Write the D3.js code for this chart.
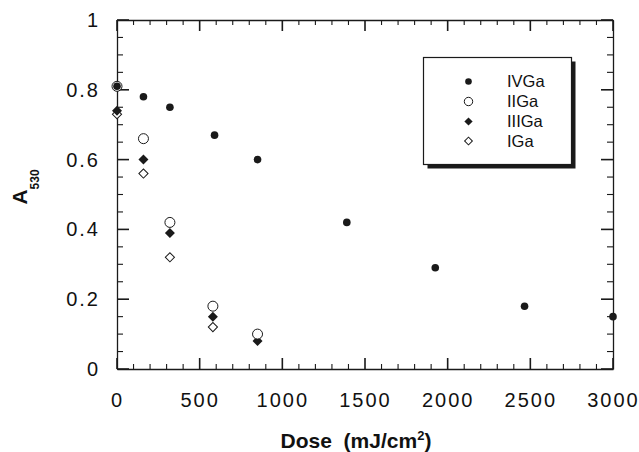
<!DOCTYPE html>
<html>
<head>
<meta charset="utf-8">
<script src="https://cdn.jsdelivr.net/npm/d3@7"></script>
<style>
  html, body { margin: 0; padding: 0; background: #fff; }
  svg { display: block; }
  text { font-family: "Liberation Sans", Arial, Helvetica, sans-serif; fill: #111; }
</style>
</head>
<body>
<svg id="chart" width="639" height="452"></svg>
<script>
// Absorbance at 530 nm versus irradiation dose for four gallium complexes
const seriesNames = ["IVGa", "IIGa", "IIIGa", "IGa"];
const doseIVGa  = [0, 160, 320, 590, 850, 1390, 1925, 2465, 3000];
const valueIVGa = [0.81, 0.78, 0.75, 0.67, 0.60, 0.42, 0.29, 0.18, 0.15];
const doseIIGa  = [0, 160, 320, 580, 850];
const valueIIGa = [0.81, 0.66, 0.42, 0.18, 0.10];
const doseIIIGa  = [0, 160, 320, 580, 850];
const valueIIIGa = [0.74, 0.60, 0.39, 0.15, 0.08];
const doseIGa  = [0, 160, 320, 580];
const valueIGa = [0.73, 0.56, 0.32, 0.12];

const xMajorTicks = [0, 500, 1000, 1500, 2000, 2500, 3000];
const xTickLabels = ["0", "500", "1000", "1500", "2000", "2500", "3000"];
const yMajorTicks = [0, 0.2, 0.4, 0.6, 0.8, 1];
const yTickLabels = ["0", "0.2", "0.4", "0.6", "0.8", "1"];

const svg = d3.select("#chart");
const plotLeft = 117, plotRight = 613, plotTop = 20, plotBottom = 369;

const x = d3.scaleLinear().domain([0, 3000]).range([plotLeft, plotRight]);
const y = d3.scaleLinear().domain([0, 1]).range([plotBottom, plotTop]);

const xMinor = d3.range(0, 3001, 100).filter(v => v % 500 !== 0);
const yMinor = d3.range(0, 21).map(i => i * 0.05).filter(v => Math.abs(v * 5 - Math.round(v * 5)) > 1e-6);

const ink = "#1a1a1a";

// axes: frame lines and tick labels
const gx = svg.append("g").attr("transform", `translate(0,${plotBottom})`)
  .call(d3.axisBottom(x).tickValues(xMajorTicks).tickSize(0).tickPadding(24)
    .tickFormat((d, i) => xTickLabels[i]));
const gt = svg.append("g").attr("transform", `translate(0,${plotTop})`)
  .call(d3.axisTop(x).tickValues([]).tickSize(0));
const gy = svg.append("g").attr("transform", `translate(${plotLeft},0)`)
  .call(d3.axisLeft(y).tickValues(yMajorTicks).tickSize(0).tickPadding(17)
    .tickFormat((d, i) => yTickLabels[i]));
const gr = svg.append("g").attr("transform", `translate(${plotRight},0)`)
  .call(d3.axisRight(y).tickValues([]).tickSize(0));

[gx, gt, gy, gr].forEach(g => {
  g.selectAll("path.domain").attr("stroke", ink).attr("stroke-width", 1.3);
  g.selectAll("text").attr("font-size", 20).attr("letter-spacing", 2).attr("fill", ink)
    .attr("font-family", '"Liberation Sans", Arial, sans-serif');
});

// inward tick marks on all four sides, drawn as thin filled bars
const tickLayer = svg.append("g").attr("fill", ink);
function xTicks(vals, len, w) {
  tickLayer.selectAll(null).data(vals).enter().append("rect")
    .attr("x", d => x(d) - w / 2).attr("width", w).attr("y", plotBottom - len).attr("height", len);
  tickLayer.selectAll(null).data(vals).enter().append("rect")
    .attr("x", d => x(d) - w / 2).attr("width", w).attr("y", plotTop).attr("height", len);
}
function yTicks(vals, len, w) {
  tickLayer.selectAll(null).data(vals).enter().append("rect")
    .attr("y", d => y(d) - w / 2).attr("height", w).attr("x", plotLeft).attr("width", len);
  tickLayer.selectAll(null).data(vals).enter().append("rect")
    .attr("y", d => y(d) - w / 2).attr("height", w).attr("x", plotRight - len).attr("width", len);
}
xTicks(xMajorTicks, 11, 1.6);
xTicks(xMinor, 5, 1.1);
yTicks(yMajorTicks, 12, 1.6);
yTicks(yMinor, 6, 1.1);

// marker drawing helpers (small = legend size)
const marker = {
  IVGa:  (g, small) => g.append("circle").attr("r", small ? 3.3 : 3.8).attr("fill", ink),
  IIGa:  (g, small) => g.append("circle").attr("r", small ? 4.2 : 5).attr("fill", "#fff").attr("stroke", ink).attr("stroke-width", 1),
  IIIGa: (g, small) => g.append("path").attr("d", d3.symbol().type(d3.symbolSquare).size(small ? 34 : 50)()).attr("transform", "rotate(45)").attr("fill", ink),
  IGa:   (g, small) => g.append("path").attr("d", d3.symbol().type(d3.symbolSquare).size(small ? 30 : 42)()).attr("transform", "rotate(45)").attr("fill", "#fff").attr("stroke", ink).attr("stroke-width", 1)
};

const series = [
  { name: "IGa", dose: doseIGa, value: valueIGa },
  { name: "IIIGa", dose: doseIIIGa, value: valueIIIGa },
  { name: "IIGa", dose: doseIIGa, value: valueIIGa },
  { name: "IVGa", dose: doseIVGa, value: valueIVGa }
];

const plot = svg.append("g");
series.forEach(s => {
  s.dose.forEach((d, i) => {
    const g = plot.append("g").attr("transform", `translate(${x(d)},${y(s.value[i])})`);
    marker[s.name](g, false);
  });
});

// legend with drop shadow
const lg = svg.append("g");
const lx = 423.5, ly = 57.5, lw = 148, lh = 107;
lg.append("rect").attr("x", lx + 4).attr("y", ly + 4).attr("width", lw).attr("height", lh).attr("fill", ink);
lg.append("rect").attr("x", lx).attr("y", ly).attr("width", lw).attr("height", lh)
  .attr("fill", "#fff").attr("stroke", ink).attr("stroke-width", 1.2);
const rowY = [81.5, 101.5, 121.5, 141];
seriesNames.forEach((n, i) => {
  const g = lg.append("g").attr("transform", `translate(468.5,${rowY[i]})`);
  marker[n](g, true);
  lg.append("text").attr("x", 507).attr("y", rowY[i] + 5.5).attr("font-size", 16.5).text(n);
});

// axis titles
const xt = svg.append("text").attr("x", 356).attr("y", 448).attr("text-anchor", "middle")
  .attr("font-size", 21).attr("font-weight", "bold");
xt.append("tspan").text("Dose\u00a0\u00a0(mJ/cm");
xt.append("tspan").attr("font-size", 13).attr("dy", -8).text("2");
xt.append("tspan").attr("dy", 8).text(")");

const yt = svg.append("text").attr("transform", "translate(27,187) rotate(-90)")
  .attr("text-anchor", "middle").attr("font-weight", "bold").attr("font-size", 21);
yt.append("tspan").text("A");
yt.append("tspan").attr("font-size", 12).attr("dy", 12).text("530");
</script>
</body>
</html>
